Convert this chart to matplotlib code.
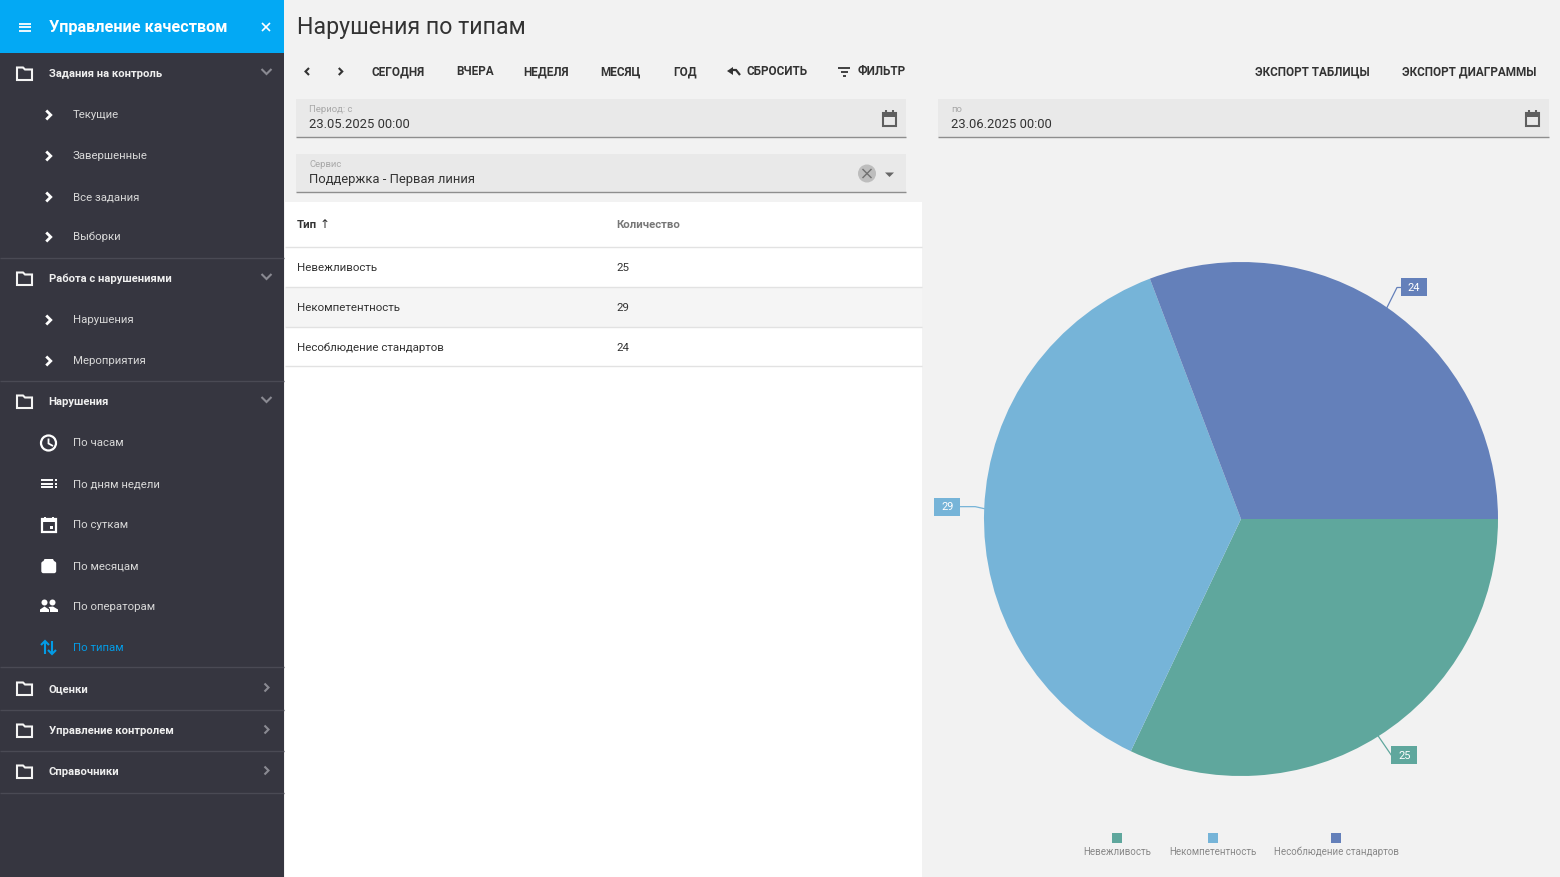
import numpy as np
import matplotlib
matplotlib.use("Agg")
import matplotlib.pyplot as plt
from matplotlib.patches import Rectangle, Circle, Polygon, FancyBboxPatch

plt.rcParams['font.family'] = ['Roboto', 'DejaVu Sans']

# ---- chart data ----
categories = ['Невежливость', 'Некомпетентность', 'Несоблюдение стандартов']
values = [25, 29, 24]
colors = ['#5FA79D', '#76B4D8', '#6480BA']

# ---- texts ----
page_title = 'Нарушения по типам'
app_title = 'Управление качеством'
toolbar_labels = ['СЕГОДНЯ', 'ВЧЕРА', 'НЕДЕЛЯ', 'МЕСЯЦ', 'ГОД', 'СБРОСИТЬ', 'ФИЛЬТР',
                  'ЭКСПОРТ ТАБЛИЦЫ', 'ЭКСПОРТ ДИАГРАММЫ']
toolbar_x = [372, 456.5, 523.5, 600.5, 673.5, 746.5, 858, 1255, 1402]
group_labels = ['Задания на контроль', 'Работа с нарушениями', 'Нарушения', 'Оценки',
                'Управление контролем', 'Справочники']
group_y = [73, 278, 401, 688, 730, 771]
group_open = [True, True, True, False, False, False]
item_labels = ['Текущие', 'Завершенные', 'Все задания', 'Выборки', 'Нарушения', 'Мероприятия',
               'По часам', 'По дням недели', 'По суткам', 'По месяцам', 'По операторам', 'По типам']
item_y = [114, 155, 196, 236, 319, 360, 442, 483, 524, 565, 606, 647]
divider_y = [258, 381, 667, 710, 751, 793]

W, H = 1560, 877
BG = '#F2F2F2'
SIDE = '#363640'
fig = plt.figure(figsize=(W / 100, H / 100), dpi=100, facecolor=BG)
ui = fig.add_axes([0, 0, 1, 1])
ui.set_xlim(0, W)
ui.set_ylim(H, 0)
ui.axis('off')


def pt(px):
    return px * 0.72


def txt(x, y, s, px=12, color='#333333', weight='normal', ha='left', **kw):
    # y is the optical middle of the capital letters; aligned on the baseline
    ui.text(x, y + 0.36 * px, s, fontsize=pt(px), color=color, fontweight=weight, ha=ha,
            va='baseline', **kw)


def rect(x0, y0, x1, y1, color, z=1):
    ui.add_patch(Rectangle((x0, y0), x1 - x0, y1 - y0, facecolor=color, edgecolor='none', zorder=z))


def line(xs, ys, color='white', lw=1.5, z=3):
    ui.plot(xs, ys, color=color, lw=lw, solid_capstyle='butt', solid_joinstyle='miter', zorder=z)


def folder(x, y, color='#F4F4F4'):
    ui.add_patch(Polygon([(x - 7.5, y - 6), (x - 1.5, y - 6), (x + 0.5, y - 4), (x + 7.5, y - 4),
                          (x + 7.5, y + 6.5), (x - 7.5, y + 6.5)], closed=True, fill=False,
                         edgecolor=color, lw=1.5, zorder=3))


def chevron_right(x, y, color='white', lw=2, s=4):
    line([x - s / 2, x + s / 2, x - s / 2], [y - s, y, y + s], color, lw)


def chevron_down(x, y, color='#8A8A92', lw=1.5):
    line([x - 5, x, x + 5], [y - 3, y + 2, y - 3], color, lw)


def calendar(x, y, color='#5F5F5F'):
    ui.add_patch(Rectangle((x - 6.5, y - 5.5), 13, 13, fill=False, edgecolor=color, lw=1.5, zorder=3))
    rect(x - 6.5, y - 5.5, x + 6.5, y - 1.5, color, 3)
    line([x - 3.5, x - 3.5], [y - 8, y - 5], color, 1.5)
    line([x + 3.5, x + 3.5], [y - 8, y - 5], color, 1.5)


# ---- panels ----
rect(0, 0, 284, H, SIDE)
rect(0, 0, 284, 53, '#03A9F4', 2)
rect(285, 202, 922, H, 'white')
rect(285, 288, 922, 327, '#F5F5F5')
for y in [247, 287, 327, 366]:
    line([285, 922], [y, y], '#E2E2E2', 1, 2)

# ---- sidebar ----
for i in [-3.5, 0, 3.5]:
    line([18.5, 30.5], [27 + i, 27 + i], 'white', 1.3)
txt(49, 26.5, app_title, 16.2, 'white', 'bold')
line([262, 270], [23, 31], 'white', 1.2)
line([262, 270], [31, 23], 'white', 1.2)

for label, y, is_open in zip(group_labels, group_y, group_open):
    folder(24.5, y + 0.5)
    txt(48.6, y, label, 11.3, '#EFEFEF', 'bold')
    if is_open:
        chevron_down(266.5, y - 1)
    else:
        chevron_right(266.5, y - 0.5, '#8A8A92', 1.5)
for y in divider_y:
    line([0, 284], [y, y], '#4A4A54', 1, 2)
for label, y in zip(item_labels, item_y):
    active = label == 'По типам'
    txt(72.7, y, label, 11.4, '#039BE5' if active else '#D8D8D8')
    if y < 400:
        chevron_right(48.5, y + 1, 'white', 2, 4.5)

# hour icon
ui.add_patch(Circle((48.5, 443), 7.5, fill=False, edgecolor='white', lw=1.6, zorder=3))
line([48.5, 48.5, 53], [438.5, 443.5, 446], 'white', 1.3)
# week icon
for dy in [-3.5, 0, 3.5]:
    line([41, 53], [483.5 + dy, 483.5 + dy], 'white', 1.4)
    line([54.5, 56.5], [483.5 + dy, 483.5 + dy], 'white', 1.4)
# day icon
ui.add_patch(Rectangle((42, 519), 13.5, 12.5, fill=False, edgecolor='white', lw=1.6, zorder=3))
rect(42, 519, 55.5, 522, 'white', 3)
line([45, 45], [517, 520], 'white', 1.4)
line([52.5, 52.5], [517, 520], 'white', 1.4)
rect(49.5, 525.5, 53, 529, 'white', 3)
# month icon
ui.add_patch(FancyBboxPatch((42, 562), 13.5, 10.5, boxstyle='round,pad=0,rounding_size=1.5',
                            facecolor='white', edgecolor='white', lw=1, zorder=3))
ui.add_patch(Polygon([(42, 564), (44.5, 559), (53, 559), (55.5, 564)], facecolor='white', edgecolor='none', zorder=3))
# operators icon
for cx_ in [44.5, 52.5]:
    ui.add_patch(Circle((cx_, 602.5), 3, facecolor='white', edgecolor='none', zorder=3))
ui.add_patch(Polygon([(40, 612), (40, 609.5), (44.5, 606.5), (49, 609.5), (49, 612)], facecolor='white', edgecolor='none', zorder=3))
ui.add_patch(Polygon([(50, 612), (50, 609), (48.5, 607), (53, 606.5), (58, 609.5), (58, 612)], facecolor='white', edgecolor='none', zorder=3))
# sort icon
blue = '#039BE5'
line([45, 45], [641, 654], blue, 1.5)
line([41, 45, 49], [645, 641, 645], blue, 1.5)
line([52, 52], [641, 654], blue, 1.5)
line([48, 52, 56], [650, 654, 650], blue, 1.5)

# ---- page header & toolbar ----
txt(297, 25.5, page_title, 23.1, '#333333')
chevron_right(340.5, 71.5, '#333333', 1.5, 3.5)
line([309, 305.5, 309], [68, 71.5, 75], '#333333', 1.5)
for label, x in zip(toolbar_labels, toolbar_x):
    txt(x, 71, label, 11.7, '#333333', 'bold')
# reset icon
line([733, 736, 740], [70, 70, 75], '#333333', 1.6)
ui.add_patch(Polygon([(727, 71), (733, 67), (733, 75)], facecolor='#333333', edgecolor='none', zorder=3))
# filter icon
for y, a, b in [(68, 838, 850), (72, 840.5, 847.5), (76, 842.5, 845.5)]:
    line([a, b], [y, y], '#333333', 1.3)


# ---- fields ----
def field(x0, x1, y0, y1, caption, value):
    rect(x0, y0, x1, y1, '#E9E9E9')
    line([x0, x1], [y1, y1], '#8E8E8E', 1, 2)
    txt(x0 + 13, y0 + 10, caption, 9.5, '#A8A8A8')
    txt(x0 + 13, y0 + 24.5, value, 13, '#333333')


field(296, 906, 99, 137, 'Период: с', '23.05.2025 00:00')
field(938, 1549, 99, 137, 'по', '23.06.2025 00:00')
field(296, 906, 154, 192, 'Сервис', 'Поддержка - Первая линия')
calendar(889.5, 118)
calendar(1532, 118)
ui.add_patch(Circle((867, 173.5), 9, facecolor='#BDBDBD', edgecolor='none', zorder=3))
line([862.5, 871.5], [169, 178], '#707070', 1)
line([862.5, 871.5], [178, 169], '#707070', 1)
ui.add_patch(Polygon([(885, 172.5), (894, 172.5), (889.5, 177)], facecolor='#666666', edgecolor='none', zorder=3))

# ---- table ----
txt(297, 224, 'Тип', 11.5, '#333333', 'bold')
txt(320, 224, '↑', 12, '#333333', family=['DejaVu Sans'])
txt(616, 224, 'Количество', 11.4, '#777777', 'bold')
for cat, val, y in zip(sorted(categories), [values[categories.index(c)] for c in sorted(categories)], [267, 307, 347]):
    txt(297, y, cat, 11.5, '#333333')
    txt(616, y, str(val), 11.5, '#333333')

# ---- pie ----
cx, cy, r = 1241, 519, 257
pie_ax = fig.add_axes([(cx - r) / W, 1 - (cy + r) / H, 2 * r / W, 2 * r / H])
pie_ax.patch.set_alpha(0)
pie_ax.pie(values, colors=colors, startangle=0, counterclock=False, radius=1,
           wedgeprops={'linewidth': 0})
pie_ax.set_xlim(-1, 1)
pie_ax.set_ylim(-1, 1)

# leader lines and value boxes: start on the slice's mid angle
offsets = [(26, 19), (-37, -2), (27, -20)]
bends = [(13, 19), (-9, -2), (10, -20)]
cum = np.cumsum([0] + values)
for i, (v, col) in enumerate(zip(values, colors)):
    mid = -(cum[i] + v / 2) / cum[-1] * 2 * np.pi
    x0 = cx + r * np.cos(mid)
    y0 = cy - r * np.sin(mid)
    bx, by = x0 + offsets[i][0], y0 + offsets[i][1]
    edge = bx + 13 if offsets[i][0] < 0 else bx - 13
    ui.plot([x0, x0 + bends[i][0], edge], [y0, y0 + bends[i][1], by], color=col, lw=0.9, zorder=4.5)
    rect(bx - 13, by - 9, bx + 13, by + 9, col, 5)
    ui.text(bx, by + 0.5, str(v), fontsize=pt(11), color='white', ha='center', va='center', zorder=6)

# ---- legend ----
legend_x = [1117, 1213, 1336]
for cat, col, x in zip(categories, colors, legend_x):
    rect(x - 5, 833, x + 5, 843, col)
    txt(x, 851.5, cat, 9.8, '#888888', ha='center')

fig.savefig('out.png', dpi=100, facecolor=BG)
